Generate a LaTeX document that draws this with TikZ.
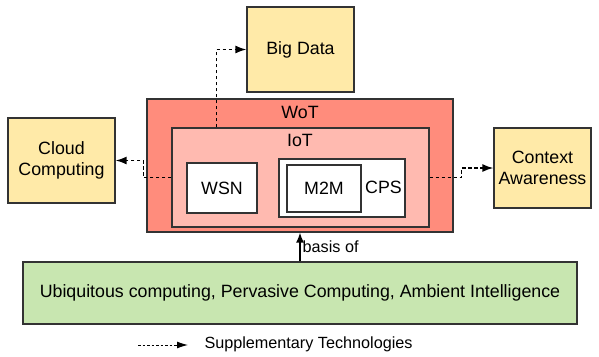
\documentclass[tikz,border=0pt]{standalone}
\usepackage{fontspec}
\setmainfont{Liberation Sans}
\usepackage{tikz}
\usetikzlibrary{arrows,arrows.meta,positioning,calc}
\definecolor{boxline}{HTML}{333333}
\definecolor{techyellow}{HTML}{FFEAA8}
\definecolor{wotred}{HTML}{FF8C7C}
\definecolor{iotpink}{HTML}{FFBAB0}
\definecolor{basegreen}{HTML}{C8E6B0}
\begin{document}
\begin{tikzpicture}[x=1pt,y=-1pt,
  box/.style={draw=boxline,line width=1.3pt,inner sep=0pt,align=center,
    font=\fontsize{17.8}{21.5}\selectfont},
  tech/.style={box,fill=techyellow},
  supp/.style={draw,dashed,dash pattern=on 3.5pt off 2.5pt,line width=1.5pt,
    -{Latex[length=11pt,width=8pt]}},
  small/.style={font=\fontsize{16.2}{19}\selectfont}]
  \useasboundingbox (0,0) rectangle (599,356);
  \node (wot) [box,fill=wotred,minimum width=306pt,minimum height=133pt] at (300,165.5) {};
  \node (iot) [box,fill=iotpink,minimum width=257pt,minimum height=99pt] at (300.5,177.5) {};
  \node (wotlabel) [box,draw=none] at (300,112) {WoT};
  \node (iotlabel) [box,draw=none] at (300,140) {IoT};
  \node (wsn) [box,fill=white,minimum width=70pt,minimum height=50pt] at (222,188) {WSN};
  \node (cps) [box,fill=white,minimum width=126pt,minimum height=58pt] at (342,188) {};
  \node (m2m) [box,fill=white,minimum width=74pt,minimum height=47pt] at (324,188.5) {M2M};
  \node (cpslabel) [box,draw=none] at (383.5,187) {CPS};
  \node (bigdata) [tech,minimum width=107pt,minimum height=85pt] at (300.5,49.5) {Big Data};
  \node (cloud) [tech,minimum width=107pt,minimum height=85pt] at (61.5,160.5) {Cloud\\Computing};
  \node (context) [tech,minimum width=97pt,minimum height=80pt] at (542.5,168) {Context\\Awareness};
  \node (ubi) [box,fill=basegreen,minimum width=554pt,minimum height=62pt] at (300,293)
    {Ubiquitous computing, Pervasive Computing, Ambient Intelligence};
  \coordinate (legstart) at (138,345);
  \coordinate (legend) at (188,345);
  \node (legtext) [small,anchor=west] at (201,344) {Supplementary Technologies};
  \path[supp]
    ($(iot.north west)+(45,0)$) |- (bigdata.west);
  \path[supp]
    (iot.west) -- ++(-28,0) |- (cloud.east);
  \path[supp]
    (iot.east) -- ++(32,0) |- (context.west);
  \path[supp,line width=1pt,dash pattern=on 2.5pt off 2pt,-{Latex[length=11pt,width=7pt]}] (legstart) -- (legend);
  \draw[-{Latex[length=10pt,width=8pt]},line width=1.4pt] (ubi.north) -- node[small,right,inner sep=2pt] {basis of} (wot.south);
\end{tikzpicture}
\end{document}
